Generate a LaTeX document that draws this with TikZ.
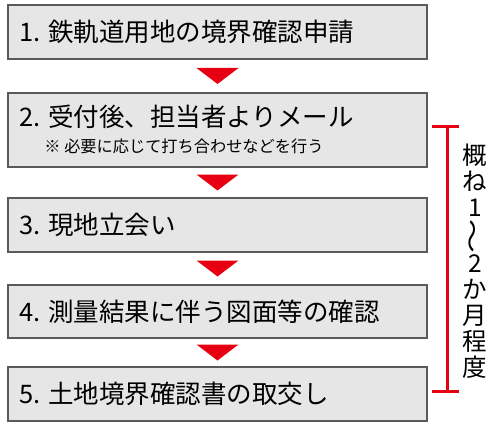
\documentclass[tikz,border=0pt]{standalone}
\usepackage{fontspec}
\newfontfamily\jp{Noto Sans CJK JP}
\usetikzlibrary{calc}
\definecolor{boxfill}{HTML}{E6E6E6}
\definecolor{boxline}{HTML}{5A5A5A}
\definecolor{flowred}{HTML}{E60012}
\begin{document}
\begin{tikzpicture}[x=1pt,y=-1pt,
  stepbox/.style={draw=boxline, fill=boxfill, line width=1.5pt, minimum width=419pt, minimum height=#1, inner sep=0pt},
  lbl/.style={font=\jp\fontsize{25.5}{28}\selectfont, inner sep=0pt, anchor=west, text=black},
  note/.style={font=\jp\fontsize{16.2}{18}\selectfont, inner sep=0pt, anchor=west, text=black},
  vlbl/.style={font=\jp\fontsize{24.5}{26.1}\selectfont, inner sep=0pt, align=center, text=black},
  flowarrow/.style={fill=flowred},
  bracket/.style={draw=flowred, line width=3pt}]
\useasboundingbox (0,0) rectangle (498,425);
\fill[white] (0,0) rectangle (498,425);

\node[stepbox=54pt] (b1) at (217.5,32) {};
\node[stepbox=74pt] (b2) at (217.5,130) {};
\node[stepbox=54pt] (b3) at (217.5,225) {};
\node[stepbox=53pt] (b4) at (217.5,311.5) {};
\node[stepbox=54pt] (b5) at (217.5,394) {};

\node[lbl] (t1) at ($(b1.west)+(12,0)$) {1. 鉄軌道用地の境界確認申請};
\node[lbl] (t2) at ($(b2.west)+(12,-13)$) {2. 受付後、担当者よりメール};
\node[note] (n2) at ($(b2.west)+(37,16)$) {※ 必要に応じて打ち合わせなどを行う};
\node[lbl] (t3) at ($(b3.west)+(12,0)$) {3. 現地立会い};
\node[lbl] (t4) at ($(b4.west)+(12,0)$) {4. 測量結果に伴う図面等の確認};
\node[lbl] (t5) at ($(b5.west)+(12,0)$) {5. 土地境界確認書の取交し};

\foreach \a/\b in {b1/b2,b2/b3,b3/b4,b4/b5}
  \fill[flowarrow] ($(\a.south)!0.5!(\b.north)+(-21,-8)$) -- ++(42,0) -- ++(-21,16) -- cycle;

\coordinate (brtop) at (447,127);
\coordinate (brbot) at (447,391);
\draw[bracket] ($(brtop)+(-15,0)$) -- ($(brtop)+(12,0)$);
\draw[bracket] (brtop) -- (brbot);
\draw[bracket] ($(brbot)+(-15,0)$) -- ($(brbot)+(12,0)$);

\node[vlbl] (period) at (475,261.5) {概\\ね\\1\\\rotatebox[origin=c]{90}{\scalebox{1.4}[1]{～}}\\2\\か\\月\\程\\度};
\end{tikzpicture}
\end{document}
